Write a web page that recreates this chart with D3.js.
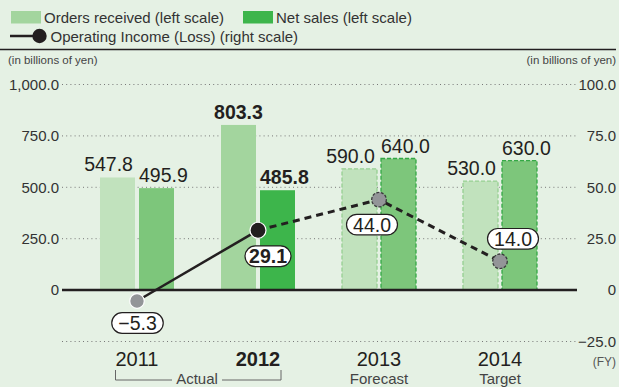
<!DOCTYPE html>
<html>
<head>
<meta charset="utf-8">
<script src="https://cdn.jsdelivr.net/npm/d3@7"></script>
<style>
  html, body { margin: 0; padding: 0; background: #e5f1e4; }
  svg { display: block; font-family: "Liberation Sans", Arial, Helvetica, sans-serif; }
</style>
</head>
<body>
<svg id="chart" width="619" height="387"></svg>
<script>
// ---- data -------------------------------------------------------------
const years = ["2011", "2012", "2013", "2014"];
const phases = ["Actual", "Actual", "Forecast", "Target"];
const ordersReceived = [547.8, 803.3, 590.0, 530.0];   // left scale
const netSales = [495.9, 485.8, 640.0, 630.0];         // left scale
const operatingIncome = [-5.3, 29.1, 44.0, 14.0];      // right scale
const leftTicks = [0, 250, 500, 750, 1000];
const rightTicks = [-25, 0, 25, 50, 75, 100];
const highlightYear = "2012";
const actualCount = 2;   // first two fiscal years are actual results

// ---- layout -------------------------------------------------------------
const plotLeft = 62, plotRight = 577;
const svg = d3.select("#chart");
const ink = "#231f20";

const yL = d3.scaleLinear().domain([-250, 1000]).range([341.5, 84.5]);
const yR = d3.scaleLinear().domain([-25, 100]).range([341.5, 84.5]);

const x0 = d3.scaleBand().domain(years).range([76.5, 560.5])
  .paddingInner(47 / 121).paddingOuter(47 / 242);
const x1 = d3.scaleBand().domain(["orders", "sales"]).range([0, x0.bandwidth()])
  .paddingInner(0.1026).paddingOuter(0);
const cx = y => x0(y) + x0.bandwidth() / 2;

// ---- legend -------------------------------------------------------------
const legend = svg.append("g");
legend.append("rect").attr("x", 11).attr("y", 11).attr("width", 30).attr("height", 12.5).attr("fill", "#a3d59e");
legend.append("text").attr("x", 44).attr("y", 23.3).attr("font-size", 15).attr("fill", "#333")
  .text("Orders received (left scale)");
legend.append("rect").attr("x", 243).attr("y", 11).attr("width", 30).attr("height", 12.5).attr("fill", "#3db54b");
legend.append("text").attr("x", 276).attr("y", 23.3).attr("font-size", 15).attr("fill", "#333")
  .text("Net sales (left scale)");
legend.append("line").attr("x1", 10).attr("x2", 36).attr("y1", 36).attr("y2", 36)
  .attr("stroke", ink).attr("stroke-width", 2.5);
legend.append("circle").attr("cx", 39.5).attr("cy", 36).attr("r", 7.2).attr("fill", ink);
legend.append("text").attr("x", 50.5).attr("y", 41.7).attr("font-size", 15).attr("fill", "#333")
  .text("Operating Income (Loss) (right scale)");
svg.append("line").attr("x1", 0).attr("x2", 616).attr("y1", 49.5).attr("y2", 49.5)
  .attr("stroke", ink).attr("stroke-width", 1.5);

svg.append("text").attr("x", 8).attr("y", 64).attr("font-size", 11.5).attr("fill", "#444")
  .text("(in billions of yen)");
svg.append("text").attr("x", 616).attr("y", 64).attr("font-size", 11.5).attr("fill", "#444")
  .attr("text-anchor", "end").text("(in billions of yen)");

// ---- grid -------------------------------------------------------------
svg.append("g").selectAll("line").data(rightTicks.filter(d => d !== 0)).join("line")
  .attr("x1", plotLeft).attr("x2", plotRight)
  .attr("y1", d => yR(d)).attr("y2", d => yR(d))
  .attr("stroke", "#777").attr("stroke-width", 1).attr("stroke-dasharray", "1,3.2");

// ---- axes -------------------------------------------------------------
const fmtL = d => d === 0 ? "0" : d3.format(",.1f")(d);
const fmtR = d => d === 0 ? "0" : d3.format(".1f")(d);

const axL = svg.append("g").attr("transform", `translate(${plotLeft},0)`)
  .call(d3.axisLeft(yL).tickValues(leftTicks).tickFormat(fmtL).tickSize(0).tickPadding(3));
axL.select(".domain").remove();
axL.selectAll("text").attr("font-size", 15).attr("fill", "#333")
  .attr("font-family", "'Liberation Sans', Arial, sans-serif");

const axR = svg.append("g").attr("transform", `translate(${plotRight},0)`)
  .call(d3.axisRight(yR).tickValues(rightTicks).tickFormat(fmtR).tickSize(0).tickPadding(39));
axR.select(".domain").remove();
axR.selectAll("text").attr("font-size", 15).attr("fill", "#333").attr("text-anchor", "end")
  .attr("font-family", "'Liberation Sans', Arial, sans-serif");

svg.append("text").attr("x", 616).attr("y", 366).attr("font-size", 12).attr("fill", "#555")
  .attr("text-anchor", "end").text("(FY)");

// ---- bars -------------------------------------------------------------
const rows = years.map((y, i) => ({
  year: y, i, orders: ordersReceived[i], sales: netSales[i],
  actual: i < actualCount, hi: y === highlightYear
}));

const palette = {
  orders: { hi: "#a3d59e", base: "#c1e2bd", edge: "#96cf91" },
  sales:  { hi: "#3db54b", base: "#7dc67b", edge: "#34a845" }
};

const bars = [];
rows.forEach(r => {
  ["orders", "sales"].forEach(k => bars.push({ ...r, key: k, value: r[k] }));
});

svg.append("g").selectAll("rect").data(bars).join("rect")
  .attr("x", d => x0(d.year) + x1(d.key))
  .attr("width", x1.bandwidth())
  .attr("y", d => yL(d.value))
  .attr("height", d => yL(0) - yL(d.value))
  .attr("fill", d => d.hi ? palette[d.key].hi : palette[d.key].base)
  .attr("stroke", d => d.actual ? "none" : palette[d.key].edge)
  .attr("stroke-width", 1.3)
  .attr("stroke-dasharray", "4,2");

// zero baseline
svg.append("line").attr("x1", plotLeft).attr("x2", plotRight)
  .attr("y1", yL(0)).attr("y2", yL(0)).attr("stroke", ink).attr("stroke-width", 2.5);

// bar value labels: orders label slides left when it would crowd the sales label
const fmtV = d3.format(".1f");
const crowded = d => Math.abs(yL(d.orders) - yL(d.sales)) < 30;
svg.append("g").selectAll("text").data(bars).join("text")
  .attr("font-size", 19.5)
  .attr("font-weight", d => d.hi ? "bold" : "normal")
  .attr("fill", ink)
  .attr("y", d => yL(d.value) - 6)
  .attr("x", d => {
    const bx = x0(d.year) + x1(d.key);
    if (d.key === "sales") return bx;
    return crowded(d) ? bx + x1.bandwidth() - 2 : bx + x1.bandwidth() / 2;
  })
  .attr("text-anchor", d => d.key === "sales" ? "start" : (crowded(d) ? "end" : "middle"))
  .text(d => fmtV(d.value));

// ---- operating income line -------------------------------------------
const pts = rows.map(r => ({ ...r, x: cx(r.year), y: yR(operatingIncome[r.i]), v: operatingIncome[r.i] }));
const line = d3.line().x(d => d.x).y(d => d.y);

svg.append("path").attr("d", line(pts.slice(0, actualCount)))
  .attr("fill", "none").attr("stroke", ink).attr("stroke-width", 2.5);
svg.append("path").attr("d", line(pts.slice(actualCount - 1)))
  .attr("fill", "none").attr("stroke", ink).attr("stroke-width", 3)
  .attr("stroke-dasharray", "7,5");

svg.append("g").selectAll("circle").data(pts).join("circle")
  .attr("cx", d => d.x).attr("cy", d => d.y)
  .attr("r", d => d.hi ? 8 : 7.3)
  .attr("fill", d => d.hi ? ink : "#939598")
  .attr("stroke", d => d.actual ? "#fff" : "#3a3a3c")
  .attr("stroke-width", d => d.actual ? 1.2 : 1.3)
  .attr("stroke-dasharray", d => d.actual ? null : "3,1.5");

// value callouts for operating income
const callOffset = [[0.5, 22], [10, 26], [-7, 25], [13, -22.5]];
const fmtO = d3.format(".1f");
const callouts = svg.append("g").selectAll("g").data(pts).join("g")
  .attr("transform", d => `translate(${d.x + callOffset[d.i][0]},${d.y + callOffset[d.i][1]})`);
callouts.each(function (d) {
  const g = d3.select(this);
  const t = g.append("text").attr("text-anchor", "middle").attr("y", 7)
    .attr("font-size", 19.5).attr("font-weight", d.hi ? "bold" : "normal")
    .attr("fill", ink).text(fmtO(d.v));
  const bw = t.node().getComputedTextLength() + (d.hi ? 8 : 13);
  g.insert("rect", "text").attr("x", -bw / 2).attr("y", -10.3)
    .attr("width", bw).attr("height", 20.6).attr("rx", 10.3)
    .attr("fill", "#fff").attr("stroke", ink).attr("stroke-width", 1.2);
});

// ---- category labels -----------------------------------------------
svg.append("g").selectAll("text").data(rows).join("text")
  .attr("x", d => cx(d.year)).attr("y", 366)
  .attr("text-anchor", "middle").attr("font-size", 20)
  .attr("font-weight", d => d.hi ? "bold" : "normal").attr("fill", ink)
  .text(d => d.year);

// phase labels: actual years share a bracket
const a0 = cx(years[0]) - 21.5, a1 = cx(years[actualCount - 1]) + 23;
const aMid = (cx(years[0]) + cx(years[actualCount - 1])) / 2 - 0.5;
svg.append("path")
  .attr("d", `M${a0},370V380H${aMid - 25}M${aMid + 25},380H${a1}V370`)
  .attr("fill", "none").attr("stroke", "#666").attr("stroke-width", 1);
svg.append("text").attr("x", aMid).attr("y", 383.5).attr("text-anchor", "middle")
  .attr("font-size", 15).attr("fill", "#444").text(phases[0]);
svg.append("g").selectAll("text").data(rows.slice(actualCount)).join("text")
  .attr("x", d => cx(d.year)).attr("y", 383.5).attr("text-anchor", "middle")
  .attr("font-size", 15).attr("fill", "#444").text(d => phases[d.i]);
</script>
</body>
</html>
